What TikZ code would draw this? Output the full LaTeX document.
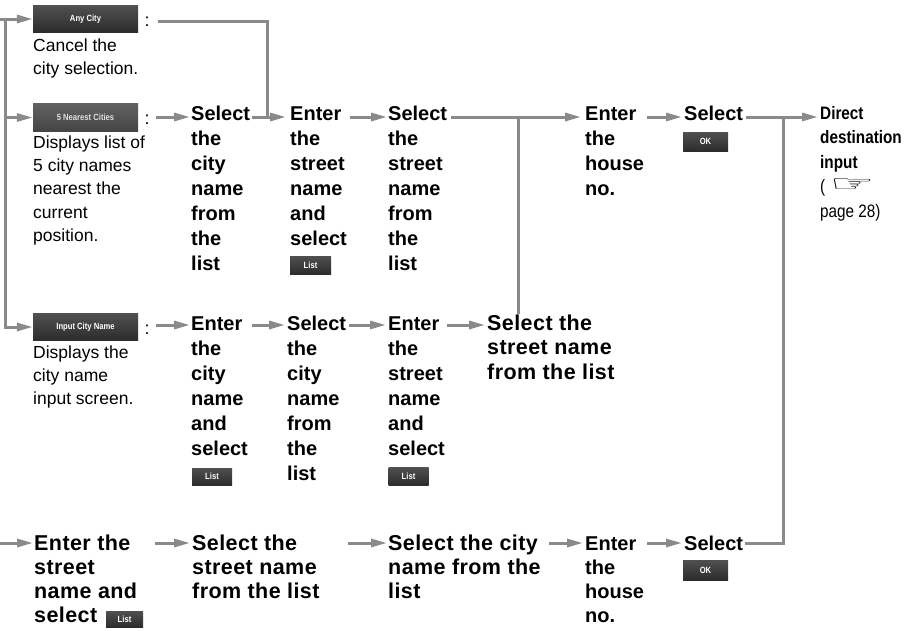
\documentclass[tikz,border=0pt]{standalone}
\usepackage{fontspec}
\setmainfont{Liberation Sans}
\newfontfamily\narrowfont[FakeStretch=0.85]{Liberation Sans}
\newfontfamily\symfont{DejaVu Sans}
\usetikzlibrary{arrows.meta}
\definecolor{lg}{HTML}{8A8A8A}
\definecolor{btntop}{HTML}{505050}
\definecolor{btnbot}{HTML}{2C2C2C}
\definecolor{btnltop}{HTML}{626262}
\definecolor{btnlbot}{HTML}{444444}
\begin{document}
\begin{tikzpicture}[x=1pt,y=-1pt,
  stp/.style={anchor=base west, inner sep=0pt, align=left, font=\bfseries\fontsize{20}{25}\selectfont},
  stpb/.style={anchor=base west, inner sep=0pt, align=left, font=\bfseries\fontsize{20}{24}\selectfont},
  wide/.style={anchor=base west, inner sep=0pt, align=left, font=\bfseries\fontsize{21.5}{24.5}\selectfont\addfontfeature{LetterSpace=2}},
  widb/.style={anchor=base west, inner sep=0pt, align=left, font=\bfseries\fontsize{21.5}{24}\selectfont\addfontfeature{LetterSpace=2}},
  desc/.style={anchor=base west, inner sep=0pt, align=left, font=\fontsize{17.5}{23.2}\selectfont},
  colon/.style={anchor=base, inner sep=0pt, font=\fontsize{18}{20}\selectfont},
  btn/.style={rectangle, inner sep=0pt, top color=btntop, bottom color=btnbot, text=white,
    font=\narrowfont\bfseries\fontsize{9}{10}\selectfont},
  ln/.style={draw=lg, line width=3pt},
  arr/.style={ln, -{Triangle[length=16pt,width=8pt]}}]
\useasboundingbox (0,0) rectangle (910,630);

% row coordinates (arrow heights)
\coordinate (r1) at (0,117);
\coordinate (r3) at (0,325);
\coordinate (r4) at (0,543);

% ---- left buttons and descriptions (nodes placed by the baseline of their last line)
\node[btn, minimum width=105pt, minimum height=27pt] (anyb) at (85.5,19) {Any City};
\node[colon] (c1) at (147,26) {:};
\node[desc] (anyd) at (33,74.7) {Cancel the\\city selection.};

\node[btn, minimum width=105pt, minimum height=28pt, top color=btnltop, bottom color=btnlbot, text=black!12] (nearb) at (85.5,117.5) {5 Nearest Cities};
\node[colon] (c2) at (147,124) {:};
\node[desc] (neard) at (33,241.3) {Displays list of\\5 city names\\nearest the\\current\\position.};

\node[btn, minimum width=105pt, minimum height=27pt] (inputb) at (85.5,327) {Input City Name};
\node[colon] (c3) at (147,334) {:};
\node[desc] (inputd) at (33,404.9) {Displays the\\city name\\input screen.};

% ---- row 1
\node[stp] (s11) at (191,270) {Select\\the\\city\\name\\from\\the\\list};
\node[stp] (s12) at (290,245) {Enter\\the\\street\\name\\and\\select};
\node[btn, minimum width=41pt, minimum height=18pt] (list1) at (310.5,265) {List};
\node[stp] (s13) at (388,270) {Select\\the\\street\\name\\from\\the\\list};
\node[stp] (s14) at (585,195) {Enter\\the\\house\\no.};
\node[stp] (s15) at (684,120) {Select};
\node[btn, minimum width=45pt, minimum height=19pt] (ok1) at (705.5,141.5) {OK};
\node[anchor=base west, inner sep=0pt, align=left, font=\narrowfont\fontsize{18}{24.5}\selectfont] (dest) at (820,217)
  {\bfseries Direct\\\bfseries destination\\\bfseries input\\( \raisebox{1pt}{\scalebox{2.8}[1.25]{\symfont ☞}}\\page 28)};

% ---- row 3
\node[stp] (s31) at (191,455) {Enter\\the\\city\\name\\and\\select};
\node[btn, minimum width=40pt, minimum height=17pt] (list2) at (212,476.5) {List};
\node[stp] (s32) at (287,480) {Select\\the\\city\\name\\from\\the\\list};
\node[stp] (s33) at (388,455) {Enter\\the\\street\\name\\and\\select};
\node[btn, minimum width=40pt, minimum height=18pt] (list3) at (408.5,476.5) {List};
\node[wide] (s34) at (487,379) {Select the\\street name\\from the list};

% ---- row 4
\node[widb] (s41) at (34,622) {Enter the\\street\\name and\\select};
\node[btn, minimum width=37pt, minimum height=16pt] (list4) at (124.5,619) {List};
\node[widb] (s42) at (192,598) {Select the\\street name\\from the list};
\node[widb] (s43) at (388,598) {Select the city\\name from the\\list};
\node[stpb] (s44) at (585,622) {Enter\\the\\house\\no.};
\node[stpb] (s45) at (684,550) {Select};
\node[btn, minimum width=45pt, minimum height=20pt] (ok2) at (705.5,570) {OK};

% ---- merge points
\coordinate (m1) at (267,117);
\coordinate (m2) at (518,117);
\coordinate (m3) at (783,117);
\coordinate (lv) at (5,19);

% ---- left connectors
\draw[arr] (0,19) -- (anyb.west);
\draw[ln] (lv) |- ([xshift=-17pt]inputb.west);
\draw[arr] (5,327) -- (inputb.west);
\draw[arr] (5,117.5) -- (nearb.west);

% ---- row 1 connectors
\draw[arr] ([xshift=6pt]c2.east |- r1) -- ([xshift=-1pt]s11.west |- r1);
\draw[ln] ([xshift=8pt]c1.east) -| (m1);
\draw[ln] ([xshift=2pt]s11.east |- r1) -- (m1);
\draw[arr] (m1) -- ([xshift=-4pt]s12.west |- r1);
\draw[arr] ([xshift=3pt]s12.east |- r1) -- ([xshift=-1pt]s13.west |- r1);
\draw[arr] ([xshift=4pt]s13.north east |- r1) -- ([xshift=-4pt]s14.west |- r1);
\draw[arr] ([xshift=3pt]s14.east |- r1) -- ([xshift=-2pt]s15.west |- r1);
\draw[arr] ([xshift=3pt]s15.east |- r1) -- ([xshift=-2pt]dest.west |- r1);

% ---- row 3 connectors
\draw[arr] ([xshift=6pt]c3.east |- r3) -- ([xshift=-1pt]s31.west |- r3);
\draw[arr] ([xshift=4pt]s31.east |- r3) -- ([xshift=-2pt]s32.west |- r3);
\draw[arr] ([xshift=3pt]s32.east |- r3) -- ([xshift=-2pt]s33.west |- r3);
\draw[arr] ([xshift=2pt]s33.east |- r3) -- ([xshift=-2pt]s34.west |- r3);
\draw[ln] (m2 |- s34.north) -- (m2);

% ---- row 4 connectors
\draw[arr] (0,543) -- ([xshift=-1pt]s41.west |- r4);
\draw[arr] ([xshift=18pt]s41.east |- r4) -- ([xshift=-2pt]s42.west |- r4);
\draw[arr] ([xshift=28pt]s42.east |- r4) -- ([xshift=-1pt]s43.west |- r4);
\draw[arr] ([xshift=8pt]s43.east |- r4) -- ([xshift=-2pt]s44.west |- r4);
\draw[arr] ([xshift=3pt]s44.east |- r4) -- ([xshift=-2pt]s45.west |- r4);
\draw[ln] ([xshift=2pt]s45.east |- r4) -| (m3);
\end{tikzpicture}
\end{document}
